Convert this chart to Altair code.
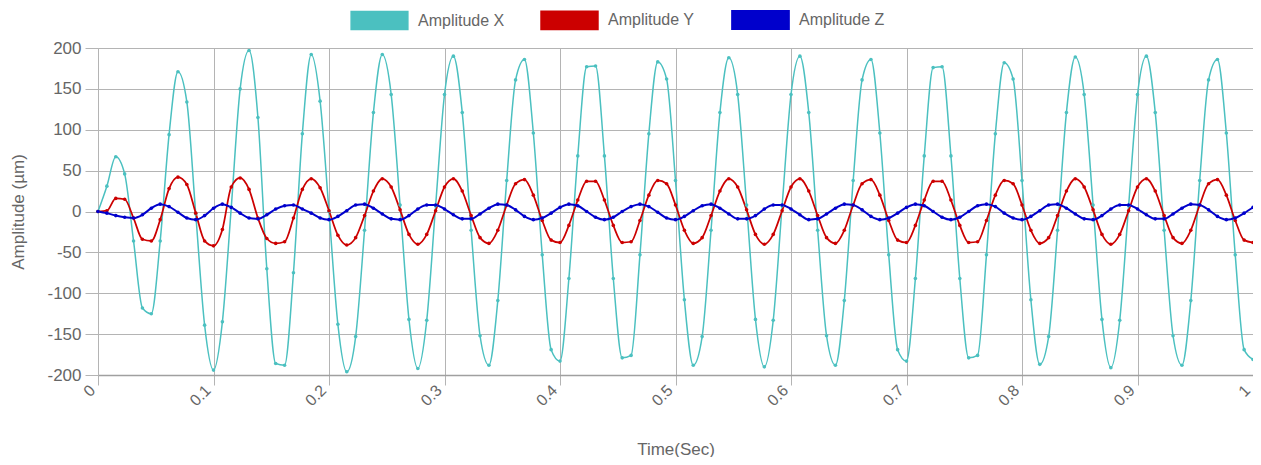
import altair as alt
import pandas as pd

# sample grid: 130 samples per second, 0 .. 1 s
time_sec = [round(i / 130, 5) for i in range(131)]

amp_x = [0, 31, 67, 46, -36, -118, -125, -36, 94, 171,
         134, -3, -139, -194, -135, 5, 150, 197, 115, -70,
         -186, -188, -75, 95, 192, 135, 0, -138, -196, -153,
         -23, 121, 192, 143, 8, -132, -192, -133, 7, 143,
         190, 121, -23, -152, -188, -109, 38, 161, 186, 96,
         -53, -169, -183, -82, 68, 177, 178, 68, -82, -179,
         -176, -53, 95, 183, 162, 38, -108, -188, -153, -23,
         121, 188, 143, 8, -132, -190, -133, 7, 143, 190,
         121, -23, -152, -188, -109, 38, 161, 186, 96, -53,
         -169, -183, -82, 68, 176, 177, 68, -82, -179, -176,
         -53, 95, 182, 162, 38, -108, -187, -153, -23, 121,
         189, 143, 8, -132, -191, -133, 7, 143, 190, 121,
         -23, -152, -188, -109, 38, 161, 186, 96, -53, -169,
         -181]

amp_y = [0, 1, 16, 15, -8, -34, -36, -10, 28, 42,
         33, -2, -36, -42, -22, 30, 41, 27, -8, -33,
         -39, -37, -8, 27, 40, 29, 1, -29, -41, -32,
         -5, 25, 40, 30, 2, -28, -40, -28, 1, 30,
         40, 25, -5, -32, -39, -23, 8, 34, 39, 20,
         -11, -35, -38, -17, 14, 37, 37, 14, -17, -38,
         -37, -11, 20, 38, 34, 8, -23, -39, -32, -5,
         25, 40, 30, 2, -28, -40, -28, 1, 30, 40,
         25, -5, -32, -39, -23, 8, 34, 39, 20, -11,
         -35, -38, -17, 14, 37, 37, 14, -17, -38, -37,
         -11, 20, 38, 34, 8, -23, -39, -32, -5, 25,
         40, 30, 2, -28, -40, -28, 1, 30, 40, 25,
         -5, -32, -39, -23, 8, 34, 39, 20, -11, -35,
         -38]

amp_z = [0, -2, -5, -7, -8, -4, 4, 9, 6, -1,
         -8, -10, -5, 4, 9, 5, -2, -8, -9, -4,
         3, 7, 8, 3, -2, -8, -10, -6, 1, 8,
         9, 4, -3, -9, -10, -5, 3, 8, 8, 3,
         -4, -9, -9, -3, 4, 9, 8, 2, -6, -10,
         -8, -2, 5, 9, 7, 0, -7, -10, -7, 0,
         6, 9, 6, -1, -8, -10, -6, 1, 7, 9,
         4, -3, -9, -9, -5, 3, 8, 8, 3, -4,
         -10, -9, -3, 4, 9, 8, 2, -6, -10, -8,
         -2, 5, 9, 7, 0, -7, -10, -7, 0, 7,
         9, 6, -2, -8, -10, -6, 1, 8, 9, 4,
         -3, -9, -10, -5, 3, 8, 8, 3, -4, -9,
         -9, -3, 4, 9, 8, 2, -6, -10, -8, -2,
         5]

series_names = ["Amplitude X", "Amplitude Y", "Amplitude Z"]
series_colors = ["#4bc0c0", "#cc0000", "#0000cc"]
series_widths = [1.5, 2.0, 2.0]

x_ticks = [0, 0.1, 0.2, 0.3, 0.4, 0.5, 0.6, 0.7, 0.8, 0.9, 1]
y_ticks = [-200, -150, -100, -50, 0, 50, 100, 150, 200]

rows = []
for name, vals in zip(series_names, [amp_x, amp_y, amp_z]):
    for t, v in zip(time_sec, vals):
        rows.append({"time": t, "amp": v, "series": name})
df = pd.DataFrame(rows)

FONT = "Liberation Sans"
GRID = "#b4b4b4"
TXT = "#666666"

color_scale = alt.Scale(domain=series_names, range=series_colors)

legend = alt.Legend(
    title=None,
    orient="none",
    legendX=271.5,
    legendY=-38,
    direction="horizontal",
    columns=3,
    columnPadding=33,
    padding=0,
    symbolType="M-3.15,-1L3.15,-1L3.15,1L-3.15,1Z",
    symbolSize=324,
    symbolStrokeWidth=0,
    symbolOpacity=1,
    labelOffset=28.5,
    labelFontSize=16,
    labelFont=FONT,
    labelColor=TXT,
)

x_enc = alt.X(
    "time:Q",
    scale=alt.Scale(domain=[0, 1], nice=False),
    axis=alt.Axis(
        values=x_ticks,
        labelExpr="datum.value + ''",
        labelAngle=315,
        labelAlign="right",
        labelBaseline="bottom",
        labelPadding=8,
        labelFontSize=16,
        labelColor=TXT,
        labelFont=FONT,
        tickSize=10,
        tickColor=GRID,
        grid=True,
        gridColor=GRID,
        domainColor="#a0a0a0",
        domainWidth=1.5,
        title="Time(Sec)",
        titleFont=FONT,
        titleFontSize=17,
        titleFontWeight="normal",
        titleColor=TXT,
        titleY=74,
        titleBaseline="middle",
    ),
)

y_enc = alt.Y(
    "amp:Q",
    scale=alt.Scale(domain=[-200, 200], nice=False),
    axis=alt.Axis(
        values=y_ticks,
        labelExpr="datum.value + ''",
        labelFontSize=17,
        labelColor=TXT,
        labelFont=FONT,
        labelPadding=4,
        tickSize=13,
        tickColor=GRID,
        grid=True,
        gridColor=GRID,
        domainColor=GRID,
        title="Amplitude (µm)",
        titleFont=FONT,
        titleFontSize=17,
        titleFontWeight="normal",
        titleColor=TXT,
        titleX=-80,
        titleY=163.5,
        titleBaseline="middle",
    ),
)

lines = alt.Chart(df).mark_line(interpolate="monotone").encode(
    x=x_enc,
    y=y_enc,
    color=alt.Color("series:N", scale=color_scale, legend=legend),
    strokeWidth=alt.StrokeWidth(
        "series:N",
        scale=alt.Scale(domain=series_names, range=series_widths),
        legend=None,
    ),
)

points = alt.Chart(df).mark_circle(size=13, opacity=1).encode(
    x=alt.X("time:Q"),
    y=alt.Y("amp:Q"),
    color=alt.Color("series:N", scale=color_scale, legend=legend),
)

chart = (
    alt.layer(lines, points)
    .properties(
        width=1155,
        height=327,
        autosize="none",
        padding={"left": 90, "top": 40, "right": 0, "bottom": 82},
    )
    .configure_view(stroke=None)
)

chart.save("out.html", embed_options={"renderer": "svg", "actions": False})
